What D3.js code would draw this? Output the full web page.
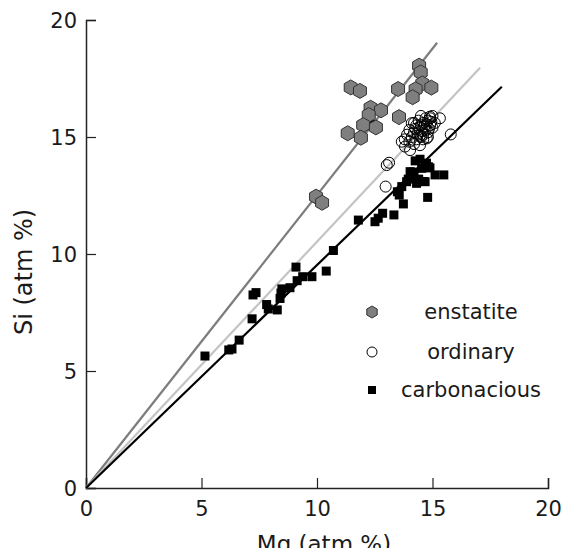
<!DOCTYPE html>
<html><head><meta charset="utf-8">
<script src="https://cdn.jsdelivr.net/npm/d3@7/dist/d3.min.js"></script>
<style>body{margin:0;background:#fff}svg{display:block}text{font-family:"DejaVu Sans",sans-serif;fill:#1a1a1a}</style>
</head><body><svg id="c" width="566" height="548"></svg>
<script>
const xTicks=[0,5,10,15,20];
const yTicks=[0,5,10,15,20];
const seriesNames=["enstatite","ordinary","carbonacious"];
// fitted line end points [Mg, Si]
const lineEnstatite=[[0,0],[15.2,19.03]];
const lineOrdinary=[[0,0],[17.06,17.96]];
const lineCarbon=[[0,0],[18.0,17.15]];
const enstatite=[[14.42,18.05],[14.49,17.76],[14.56,17.29],[14.95,17.11],[14.27,17.04],[14.14,16.70],[13.51,17.05],[11.46,17.12],[11.86,16.97],[12.32,16.25],[12.77,16.14],[12.24,15.94],[12.00,15.51],[12.55,15.41],[13.55,15.85],[11.33,15.16],[11.90,14.97],[9.96,12.45],[10.22,12.19]];
const ordinary=[[15.79,15.11],[12.97,12.88],[13.02,13.80],[13.12,13.90],[14.10,15.59],[14.89,15.87],[15.32,15.80],[13.67,14.80],[13.81,14.59],[14.03,14.44],[14.46,14.65],[14.75,14.94],[14.2,15.2],[14.4,15.4],[14.6,15.6],[14.8,15.7],[14.5,15.0],[14.3,14.9],[14.7,15.3],[14.9,15.5],[15.0,15.9],[14.1,15.0],[14.0,14.8],[14.6,15.1],[14.8,15.2],[14.4,15.7],[14.3,15.5],[14.9,15.8],[14.5,15.9],[14.7,15.8],[14.2,14.7],[14.6,14.9],[15.1,15.6],[14.0,15.3],[13.9,15.1],[14.8,15.0],[14.5,15.5],[15.0,15.4],[14.35,15.15],[14.65,15.45],[13.8,14.9],[14.2,15.6],[14.55,15.25],[14.75,15.55],[14.25,15.35],[14.95,15.65],[14.45,15.05],[14.85,15.35]];
const carbonacious=[[5.15,5.64],[6.18,5.90],[6.32,5.94],[6.63,6.32],[7.19,7.23],[7.23,8.25],[7.36,8.35],[7.82,7.84],[7.89,7.65],[8.28,7.61],[8.40,8.10],[8.48,8.51],[8.44,8.33],[8.83,8.56],[9.09,9.44],[9.14,8.86],[9.38,9.03],[9.78,9.03],[10.40,9.27],[10.71,10.15],[11.79,11.45],[12.51,11.38],[12.65,11.53],[12.84,11.74],[13.33,11.67],[13.74,12.14],[13.56,12.52],[13.48,12.66],[14.79,12.42],[13.67,12.88],[13.88,13.09],[14.10,13.30],[14.03,13.52],[14.31,13.02],[14.68,13.09],[15.11,13.38],[15.49,13.38],[14.53,13.66],[14.82,13.73],[14.46,14.05],[14.25,13.98],[14.74,13.88],[14.89,13.68],[14.60,13.10],[14.40,13.20],[12.40,15.54],[13.95,13.20],[14.20,13.50]];

const svg=d3.select("#c");
const x=d3.scaleLinear().domain([0,20]).range([86,548]);
const y=d3.scaleLinear().domain([0,20]).range([488,20]);

// axes
const xAxis=svg.append("g").attr("transform","translate(0,488)")
  .call(d3.axisBottom(x).tickValues(xTicks).tickSize(-10).tickPadding(13).tickFormat(d3.format("d")));
const yAxis=svg.append("g").attr("transform","translate(86,0)")
  .call(d3.axisLeft(y).tickValues(yTicks).tickSize(-10).tickPadding(9).tickFormat(d3.format("d")));
[xAxis,yAxis].forEach(a=>{
  a.select(".domain").attr("stroke","#222").attr("stroke-width",1.5);
  a.selectAll(".tick line").attr("stroke","#222").attr("stroke-width",1.2);
  a.selectAll("text").attr("font-size",21).attr("fill","#1a1a1a").style("font-family",'"DejaVu Sans",sans-serif');
});
xAxis.selectAll(".tick text").attr("dy","0.71em");
yAxis.selectAll(".tick text").attr("dy","0.36em");

// titles
svg.append("text").attr("x",324).attr("y",552).attr("text-anchor","middle").attr("font-size",23).text("Mg (atm %)");
svg.append("text").attr("transform","translate(32,272) rotate(-90)").attr("text-anchor","middle").attr("font-size",24).text("Si (atm %)");

// lines
const lg=d3.line().x(d=>x(d[0])).y(d=>y(d[1]));
svg.append("path").attr("d",lg(lineEnstatite)).attr("stroke","#7d7d7d").attr("stroke-width",2.2).attr("fill","none");
svg.append("path").attr("d",lg(lineOrdinary)).attr("stroke","#c4c4c4").attr("stroke-width",2.2).attr("fill","none");
svg.append("path").attr("d",lg(lineCarbon)).attr("stroke","#000").attr("stroke-width",2.2).attr("fill","none");

// hexagon path
function hexPath(r){
  const pts=d3.range(6).map(i=>{const a=Math.PI/3*i-Math.PI/2;return [r*Math.cos(a),r*Math.sin(a)];});
  return d3.line()(pts)+"Z";
}
const sq=d3.symbol().type(d3.symbolSquare).size(81)();

svg.append("g").selectAll("path").data(carbonacious).join("path")
  .attr("d",sq).attr("transform",d=>`translate(${x(d[0])},${y(d[1])})`).attr("fill","#000");
svg.append("g").selectAll("circle").data(ordinary).join("circle")
  .attr("cx",d=>x(d[0])).attr("cy",d=>y(d[1])).attr("r",5.5).attr("fill","none").attr("stroke","#000").attr("stroke-width",1);
svg.append("g").selectAll("path").data(enstatite).join("path")
  .attr("d",hexPath(7.5)).attr("transform",d=>`translate(${x(d[0])},${y(d[1])})`)
  .attr("fill","#7f7f7f").attr("stroke","#333").attr("stroke-width",1);

// legend
const leg=svg.append("g");
const ly=[312,352,390];
leg.append("path").attr("d",hexPath(6)).attr("transform",`translate(372,${ly[0]})`).attr("fill","#7f7f7f").attr("stroke","#333");
leg.append("circle").attr("cx",372).attr("cy",ly[1]).attr("r",5).attr("fill","#fff").attr("stroke","#000");
leg.append("path").attr("d",d3.symbol().type(d3.symbolSquare).size(64)()).attr("transform",`translate(372,${ly[2]})`).attr("fill","#000");
leg.selectAll("text").data(seriesNames).join("text")
  .attr("x",471).attr("y",(d,i)=>ly[i]).attr("dy","0.35em").attr("text-anchor","middle").attr("font-size",21).text(d=>d);
</script></body></html>
